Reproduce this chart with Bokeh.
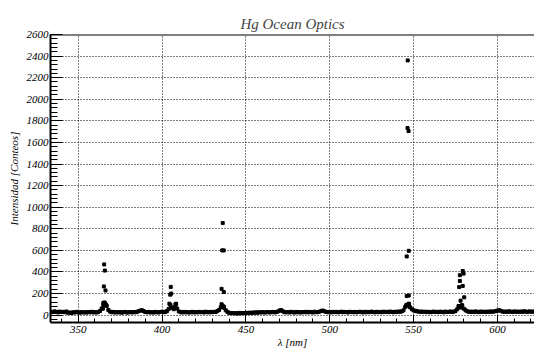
from bokeh.plotting import figure
from bokeh.models import Range1d, SingleIntervalTicker, Span
from bokeh.embed import file_html
from bokeh.resources import INLINE

# --- data -------------------------------------------------------------
baseline_start = 334  # nm, 1 nm sampling of the continuum
baseline_counts = [
    32, 28, 35, 30, 26, 33, 29, 31, 27, 34,
    22, 25, 20, 27, 24, 30, 26, 23, 28, 25,
    27, 24, 29, 26, 31, 25, 28, 24, 30, 38,
    62, 95, 110, 85, 48, 33, 27, 30, 24, 28,
    25, 29, 23, 27, 30, 24, 26, 29, 25, 28,
    27, 31, 36, 42, 46, 38, 29, 26, 30, 25,
    28, 24, 30, 27, 25, 29, 32, 27, 30, 38,
    58, 95, 70, 55, 100, 62, 35, 28, 25, 30,
    26, 29, 24, 27, 31, 25, 28, 26, 30, 27,
    29, 25, 32, 28, 26, 30, 27, 31, 29, 38,
    48, 72, 90, 68, 45, 30, 22, 18, 20, 16,
    19, 15, 21, 17, 20, 18, 22, 19, 23, 21,
    24, 22, 26, 23, 27, 25, 28, 24, 26, 29,
    25, 27, 30, 26, 28, 33, 42, 47, 36, 28,
    26, 29, 25, 31, 27, 24, 30, 26, 28, 25,
    29, 27, 31, 26, 30, 28, 25, 32, 27, 29,
    33, 40, 42, 35, 30, 27, 29, 26, 31, 28,
    30, 26, 29, 32, 27, 30, 28, 25, 31, 29,
    27, 30, 26, 29, 32, 28, 26, 31, 27, 30,
    28, 33, 29, 26, 31, 28, 30, 27, 32, 29,
    31, 28, 33, 30, 27, 32, 29, 34, 31, 36,
    45, 75, 95, 105, 72, 55, 45, 40, 36, 33,
    30, 34, 29, 32, 28, 31, 27, 30, 33, 29,
    31, 28, 32, 30, 27, 33, 29, 31, 34, 30,
    33, 38, 55, 85, 70, 92, 60, 45, 36, 32,
    30, 33, 29, 35, 31, 28, 34, 30, 32, 29,
    33, 30, 35, 31, 34, 38, 42, 46, 40, 33,
    31, 34, 30, 36, 32, 29, 35, 31, 33, 30,
    34, 31, 36, 32, 30, 35, 33, 31, 34,
]
baseline_wl = [baseline_start + i for i in range(len(baseline_counts))]

peak_wl = [
    365.5, 365.9, 365.3, 366.3, 365.0, 365.6, 366.4, 366.8, 364.7,
    405.2, 404.9, 405.5, 404.4, 408.4, 408.0, 405.8,
    436.2, 435.9, 436.8, 435.5, 436.8, 435.5, 436.8,
    546.5, 546.4, 547.0, 547.1, 545.9, 545.9, 547.1, 545.6, 547.2, 547.5,
    579.3, 577.6, 579.8, 577.6, 579.3, 577.2, 580.2, 578.0, 576.8, 578.6,
]
peak_counts = [
    470, 413, 266, 229, 112, 118, 100, 90, 60,
    262, 190, 200, 106, 106, 80, 70,
    853, 600, 600, 244, 214, 101, 80,
    2360, 1734, 1706, 596, 544, 177, 182, 92, 105, 80,
    409, 370, 385, 317, 271, 260, 165, 134, 83, 90,
]

title_text = "Hg Ocean Optics"
x_label = "λ [nm]"
y_label = "Intensidad [Conteos]"
y_max = 2600

# --- figure -----------------------------------------------------------
FONT = "Liberation Serif"

p = figure(width=534, height=350, output_backend="svg", toolbar_location=None,
           x_range=Range1d(333.5, 622.1), y_range=Range1d(-68, y_max),
           min_border_left=50, min_border_right=0, min_border_top=34,
           min_border_bottom=24, background_fill_color="white",
           border_fill_color="white")

p.title.text = title_text
p.title.align = "center"
p.title.text_font = FONT
p.title.text_font_style = "italic"
p.title.text_font_size = "15px"
p.title.standoff = 6

p.outline_line_color = None

p.xaxis.ticker = SingleIntervalTicker(interval=50, num_minor_ticks=5)
p.yaxis.ticker = SingleIntervalTicker(interval=200, num_minor_ticks=5)

p.xaxis.axis_label = x_label
p.yaxis.axis_label = y_label

for ax in (p.xaxis, p.yaxis):
    ax.axis_line_color = "black"
    ax.axis_line_width = 2
    ax.major_tick_line_color = "black"
    ax.minor_tick_line_color = "black"
    ax.major_tick_line_width = 1
    ax.minor_tick_line_width = 1
    ax.major_tick_out = 0
    ax.minor_tick_out = 0
    ax.major_label_text_font = FONT
    ax.major_label_text_font_style = "italic"
    ax.major_label_text_font_size = "11px"
    ax.major_label_text_color = "black"
    ax.axis_label_text_font = FONT
    ax.axis_label_text_font_style = "italic"
    ax.axis_label_text_font_size = "11px"
    ax.axis_label_text_color = "black"

p.xaxis.major_tick_in = 8
p.xaxis.minor_tick_in = 4
p.yaxis.major_tick_in = 12
p.yaxis.minor_tick_in = 7
p.xaxis.major_label_standoff = 3
p.xaxis.axis_label_standoff = 0
p.yaxis.major_label_standoff = 2
p.yaxis.axis_label_standoff = 4

for g in (p.xgrid, p.ygrid):
    g.grid_line_color = "black"
    g.grid_line_dash = "1 2"
    g.grid_line_width = 1
    g.grid_line_alpha = 1.0

# thick top frame line
p.add_layout(Span(location=y_max, dimension="width", line_color="black",
                  line_width=2))

p.scatter(baseline_wl, baseline_counts, marker="square", size=3,
          fill_color="black", line_color="black")
p.scatter(peak_wl, peak_counts, marker="square", size=3,
          fill_color="black", line_color="black")

open("out.html", "w").write(file_html(p, INLINE))
